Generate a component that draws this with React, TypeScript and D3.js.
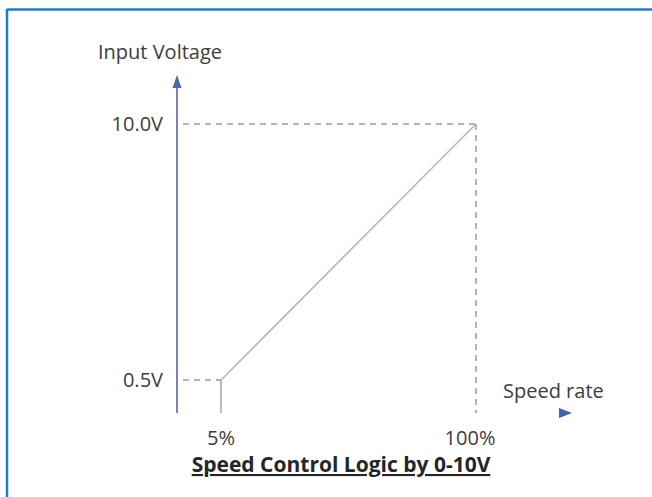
import { useMemo } from 'react';
import * as d3 from 'd3';

// control curve: speed rate (%) vs input voltage (V)
const speedPct = [5, 100];
const voltage = [0.5, 10];
const xTickLabels = ['5%', '100%'];
const yTickLabels = ['0.5V', '10.0V'];
const yAxisTitle = 'Input Voltage';
const xAxisTitle = 'Speed rate';
const chartTitle = 'Speed Control Logic by 0-10V';

const W = 652, H = 497;
const AXIS_X = 177, AXIS_TOP = 84, AXIS_BOTTOM = 413;
const FONT = '"Open Sans", Lato, sans-serif';
const TXT = '#3d3d3d';

export default function App() {
  const x = useMemo(() => d3.scaleLinear().domain([speedPct[0], speedPct[1]]).range([221, 476]), []);
  const y = useMemo(() => d3.scaleLinear().domain([voltage[0], voltage[1]]).range([380, 124]), []);

  const pts: [number, number][] = speedPct.map((s, i) => [x(s), y(voltage[i])]);
  const line = d3.line<[number, number]>()(pts) ?? '';

  return (
    <svg width={W} height={H} style={{ position: 'absolute', left: 0, top: 0, background: '#fff' }}
      fontFamily={FONT}>
      {/* frame */}
      <line x1={7} y1={9.5} x2={W} y2={9.5} stroke="#1b7dc7" strokeWidth={2.5} />
      <line x1={7} y1={9} x2={7} y2={H} stroke="#1b7dc7" strokeWidth={2.5} />

      {/* guide lines */}
      {voltage.map((v, i) => (
        <line key={'h' + i} x1={AXIS_X + 6} x2={x(speedPct[i])} y1={y(v)} y2={y(v)}
          stroke="#8e9cc4" strokeWidth={1.5} strokeDasharray="6,5" />
      ))}
      <line x1={x(speedPct[0])} x2={x(speedPct[0])} y1={y(voltage[0])} y2={AXIS_BOTTOM}
        stroke="#9aa5c4" strokeWidth={1.5} />
      <line x1={x(speedPct[1])} x2={x(speedPct[1])} y1={y(voltage[1])} y2={AXIS_BOTTOM}
        stroke="#8e9cc4" strokeWidth={1.5} strokeDasharray="6,5" />

      {/* curve */}
      <path d={line} fill="none" stroke="#a9b4cc" strokeWidth={1.5} />

      {/* y axis with arrow */}
      <line x1={AXIS_X} x2={AXIS_X} y1={AXIS_TOP} y2={AXIS_BOTTOM} stroke="#5267a0" strokeWidth={1.6} />
      <path d={`M${AXIS_X},75 L${AXIS_X + 4.5},88 L${AXIS_X - 4.5},88 Z`} fill="#4a67b2" />

      {/* x arrow */}
      <path d="M572,413 L559,408 L559,418 Z" fill="#3f5fb0" />

      {/* labels */}
      <text x={98} y={59} fontSize={20} fill={TXT}>{yAxisTitle}</text>
      {yTickLabels.map((t, i) => (
        <text key={t} x={163} y={y(voltage[i]) + 7} fontSize={20} fill={TXT} textAnchor="end">{t}</text>
      ))}
      {xTickLabels.map((t, i) => (
        <text key={t} x={x(speedPct[i]) - (i === 1 ? 6 : 0)} y={445} fontSize={20} fill={TXT} textAnchor="middle">{t}</text>
      ))}
      <text x={503} y={398} fontSize={20} fill={TXT}>{xAxisTitle}</text>
      <text x={341} y={472} fontSize={21} fontWeight={700} fill="#262626" textAnchor="middle"
        textDecoration="underline">{chartTitle}</text>
    </svg>
  );
}
